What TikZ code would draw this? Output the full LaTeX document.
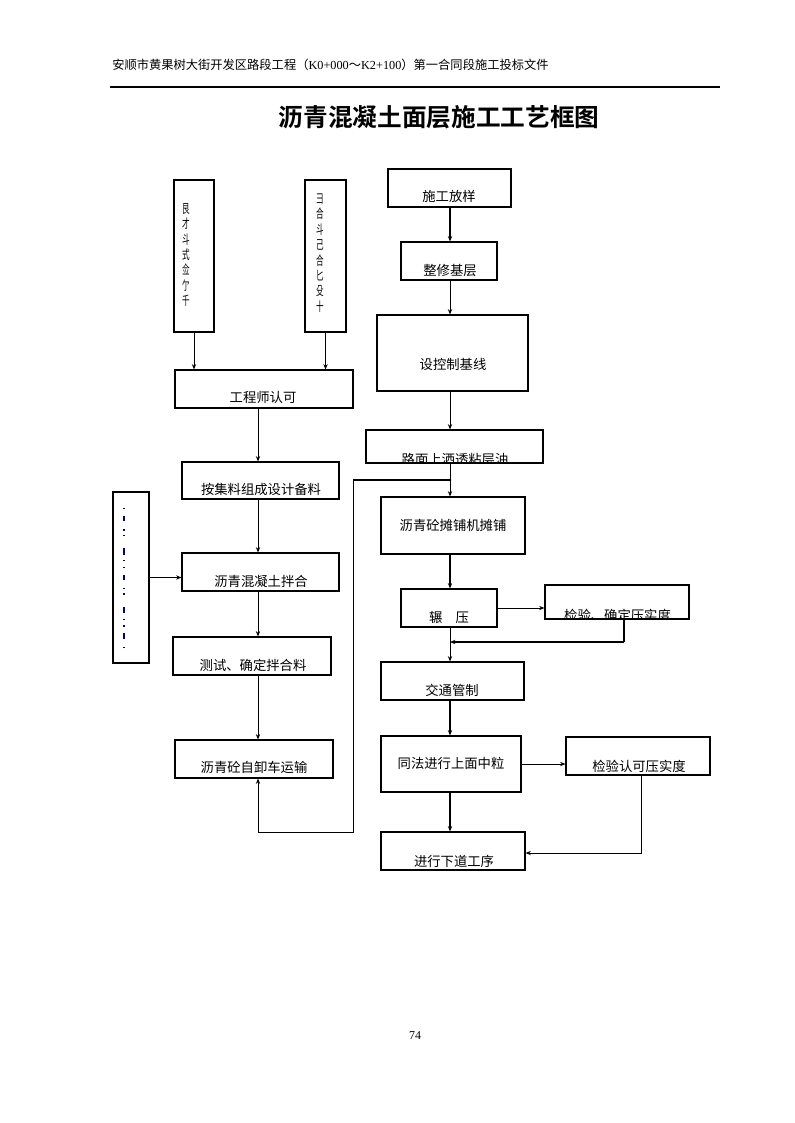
\documentclass[tikz,border=0pt]{standalone}
\usepackage{fontspec}
\setmainfont{Noto Sans CJK SC}[BoldFont={Noto Sans CJK SC Bold}]
\newfontfamily\serifl{Liberation Serif}
\usetikzlibrary{arrows.meta}
\tikzset{
  box/.style={draw, line width=0.8pt, inner sep=0pt, rectangle},
  lbl/.style={font=\fontsize{10}{12}\selectfont, inner sep=0pt},
  vt/.style={font=\fontsize{9.5}{11.6}\selectfont, inner sep=0pt, align=center, xscale=0.6, transform shape},
  arr/.style={-{Stealth[length=4pt,width=3.2pt]}, line width=0.75pt},
  thk/.style={-{Stealth[length=4pt,width=3.2pt]}, line width=1.6pt},
  thkline/.style={line width=1.6pt},
}
\newcommand\bx[5]{\node[box, minimum width={(#4-#2)*0.75pt}, minimum height={(#5-#3)*0.75pt}] (#1) at ({(#2+#4)/2},{(#3+#5)/2}) {};}
\begin{document}
\begin{tikzpicture}[x=0.75pt,y=-0.75pt]
\useasboundingbox (0,0) rectangle (794,1123);
% header
\node[anchor=west, inner sep=0pt, font=\fontsize{9.2}{11}\selectfont] (hdr) at (112,65)
  {安顺市黄果树大街开发区路段工程（{\serifl K0+000}～{\serifl K2+100}）第一合同段施工投标文件};
\coordinate (hl1) at (110,87);
\coordinate (hl2) at (720,87);
\draw[line width=0.8pt] (hl1) -- (hl2);
% title
\node[inner sep=0pt, font=\fontsize{18.5}{20}\selectfont\bfseries] (title) at (439,117) {沥青混凝土面层施工工艺框图};
% page number
\node[inner sep=0pt, font=\serifl\fontsize{9}{10}\selectfont] (pg) at (415,1036) {74};

% helper coordinates
\coordinate (cL) at (258,0);
\coordinate (cR) at (450,0);

% left column boxes
\bx{v1}{174}{180}{214}{332}
\bx{v2}{305}{180}{346}{332}
\bx{eng}{175}{370}{353}{408}
\bx{bei}{182}{462}{339}{499}
\bx{ban}{182}{553}{339}{591}
\bx{nb}{113}{492}{149}{663}
\bx{ce}{173}{637}{331}{675}
\bx{ys}{175}{740}{333}{778}

% right column boxes
\bx{sg}{388}{169}{511}{207}
\bx{zx}{401}{242}{497}{280}
\bx{kz}{377}{315}{528}{391}
\bx{lu}{366}{430}{543}{463}
\bx{tp}{381}{497}{525}{554}
\bx{ny}{401}{589}{497}{627}
\bx{jq}{545}{585}{689}{619}
\bx{jt}{381}{662}{524}{700}
\bx{tf}{381}{736}{521}{792}
\bx{jk}{566}{737}{710}{775}
\bx{xd}{381}{832}{525}{870}

% texts
\node[vt] (tv1) at (186,255) {艮\\才\\斗\\式\\佥\\亇\\千};
\node[vt] (tv2) at (320,253) {彐\\合\\斗\\己\\合\\匕\\殳\\十};
\draw[line width=0.9pt, draw=blue!55!black, dash pattern=on 1pt off 5pt on 4pt off 6pt on 1pt off 3pt on 1pt off 9pt on 5pt off 4pt on 1pt off 4pt] (124,508) -- (124,648);
\node[lbl] (t-eng) at (263,397.5) {工程师认可};
\node[lbl] (t-bei) at (261,489) {按集料组成设计备料};
\node[lbl] (t-ban) at (261,581) {沥青混凝土拌合};
\node[lbl] (t-ce) at (253,665) {测试、确定拌合料};
\node[lbl] (t-ys) at (254,767) {沥青砼自卸车运输};
\node[lbl] (t-sg) at (449,196) {施工放样};
\node[lbl] (t-zx) at (450,270) {整修基层};
\node[lbl] (t-kz) at (453,364) {设控制基线};
\begin{scope}
  \clip (lu.south west) rectangle (lu.north east);
  \node[lbl] (t-lu) at (455,459) {路面上洒透粘层油};
\end{scope}
\node[lbl] (t-tp) at (453,525) {沥青砼摊铺机摊铺};
\node[lbl] (t-ny) at (449,617) {辗　压};
\begin{scope}
  \clip (jq.south west) rectangle (jq.north east);
  \node[lbl] (t-jq) at (617.5,615) {检验、确定压实度};
\end{scope}
\node[lbl] (t-jt) at (452,690) {交通管制};
\node[lbl] (t-tf) at (451,763) {同法进行上面中粒};
\node[lbl] (t-jk) at (639,766) {检验认可压实度};
\node[lbl] (t-xd) at (454,861) {进行下道工序};

% left connectors
\draw[arr] (v1.south) -- (v1.south |- eng.north);
\draw[arr] (v2.south) -- (v2.south |- eng.north);
\draw[arr] (eng.south -| cL) -- (bei.north -| cL);
\draw[arr] (bei.south -| cL) -- (ban.north -| cL);
\draw[arr] (nb.east) -- (nb.east -| ban.west);
\draw[arr] (ban.south -| cL) -- (ce.north -| cL);
\draw[arr] (ce.south -| cL) -- (ys.north -| cL);

% right connectors
\draw[thk] (sg.south -| cR) -- (zx.north -| cR);
\draw[arr] (zx.south -| cR) -- (kz.north -| cR);
\draw[arr] (kz.south -| cR) -- (lu.north -| cR);
\draw[arr] (lu.south -| cR) -- (tp.north -| cR);
\coordinate (j1) at (450,480);
\coordinate (j2) at (353,480);
\coordinate (j3) at (258,832);
\draw[thkline] (j1) -- (j2);
\draw[arr] (j2) |- (j3) -- (ys.south -| cL);
\fill (j1) circle (1.3);
\draw[thk] (tp.south -| cR) -- (ny.north -| cR);
\draw[arr] (ny.east) -- (ny.east -| jq.west);
\coordinate (c1) at (624,642);
\draw[line width=0.8pt] (jq.south -| c1) -- (c1);
\draw[thk] (c1) -- (c1 -| cR);
\draw[arr] (ny.south -| cR) -- (jt.north -| cR);
\draw[thk] (jt.south -| cR) -- (tf.north -| cR);
\draw[arr] (tf.east) -- (tf.east -| jk.west);
\draw[thk] (tf.south -| cR) -- (xd.north -| cR);
\coordinate (c2) at (641,853);
\draw[arr] (jk.south -| c2) -- (c2) -- (c2 -| xd.east);
\end{tikzpicture}
\end{document}
